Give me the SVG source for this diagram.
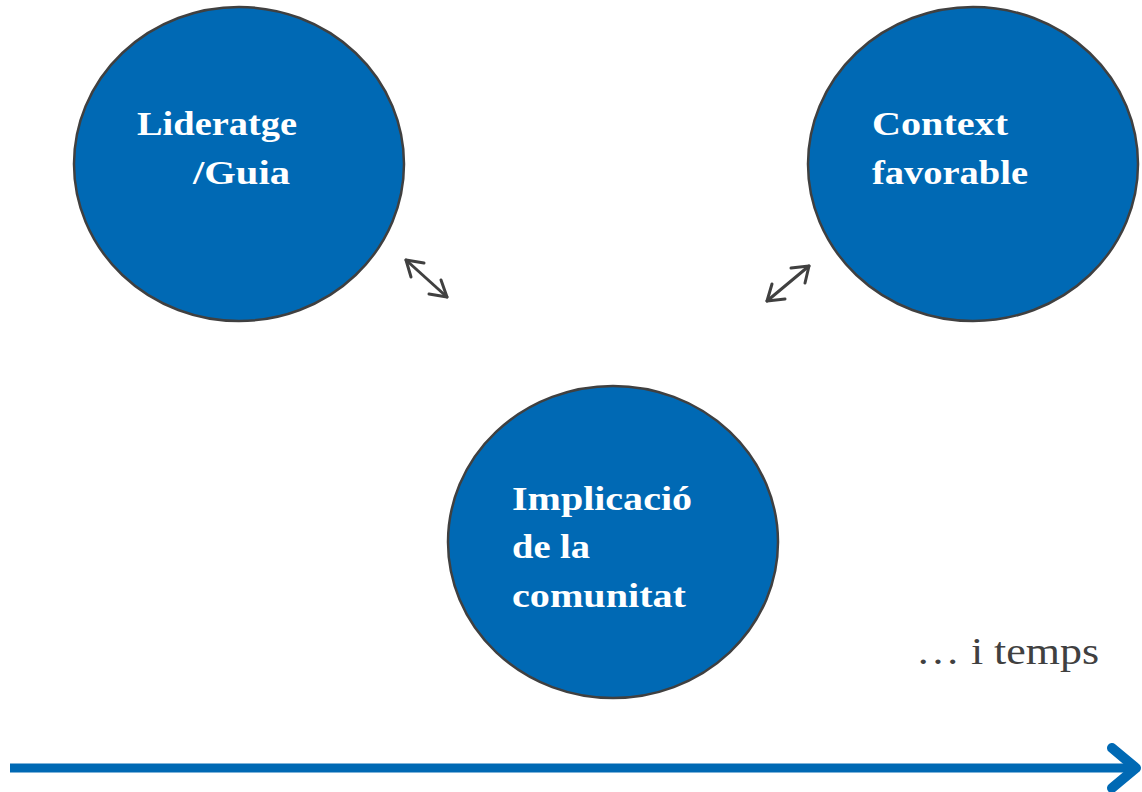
<svg xmlns="http://www.w3.org/2000/svg" width="1142" height="792" viewBox="0 0 1142 792">
<defs>
<style>
.node circle, .node ellipse{fill:#0069B4;stroke:#404040;stroke-width:2.5}
.lbl{font-family:"Liberation Serif","Times New Roman",serif;font-weight:bold;font-size:33px;fill:#ffffff}
.dbl{stroke:#404040;stroke-width:3;fill:none;stroke-linecap:round;stroke-linejoin:round}
</style>
</defs>
<rect width="1142" height="792" fill="#ffffff"/>
<g id="node-lideratge" class="node">
<ellipse cx="239" cy="164" rx="165" ry="157"/>
<text class="lbl" x="137" y="135" textLength="160" lengthAdjust="spacingAndGlyphs">Lideratge</text>
<text class="lbl" x="193" y="184" textLength="97" lengthAdjust="spacingAndGlyphs">/Guia</text>
</g>
<g id="node-context" class="node">
<ellipse cx="973" cy="164" rx="165" ry="157"/>
<text class="lbl" x="872" y="135" textLength="136" lengthAdjust="spacingAndGlyphs">Context</text>
<text class="lbl" x="872" y="184" textLength="156" lengthAdjust="spacingAndGlyphs">favorable</text>
</g>
<g id="node-implicacio" class="node">
<ellipse cx="613" cy="542" rx="165" ry="156"/>
<text class="lbl" x="512" y="510" textLength="180" lengthAdjust="spacingAndGlyphs">Implicació</text>
<text class="lbl" x="512" y="558" textLength="78" lengthAdjust="spacingAndGlyphs">de la</text>
<text class="lbl" x="512" y="607" textLength="174" lengthAdjust="spacingAndGlyphs">comunitat</text>
</g>
<g id="connectors">
<g class="dbl">
<line x1="406" y1="260" x2="447" y2="297"/>
<polyline points="424,263 406,260 411,277"/>
<polyline points="429,294 447,297 441,280"/>
<line x1="809" y1="266" x2="767" y2="301"/>
<polyline points="791,268 809,266 805,283"/>
<polyline points="772,284 767,301 785,299"/>
</g>
<g id="timeline">
<line x1="10" y1="768" x2="1134" y2="768" stroke="#0069B4" stroke-width="9"/>
<polyline points="1112,748 1136,768 1112,788" fill="none" stroke="#0069B4" stroke-width="10" stroke-linecap="round" stroke-linejoin="round"/>
</g>
</g>
<text x="916" y="664" font-family="'Liberation Serif','Times New Roman',serif" font-size="38" fill="#404040" textLength="183" lengthAdjust="spacingAndGlyphs">… i temps</text>
</svg>
